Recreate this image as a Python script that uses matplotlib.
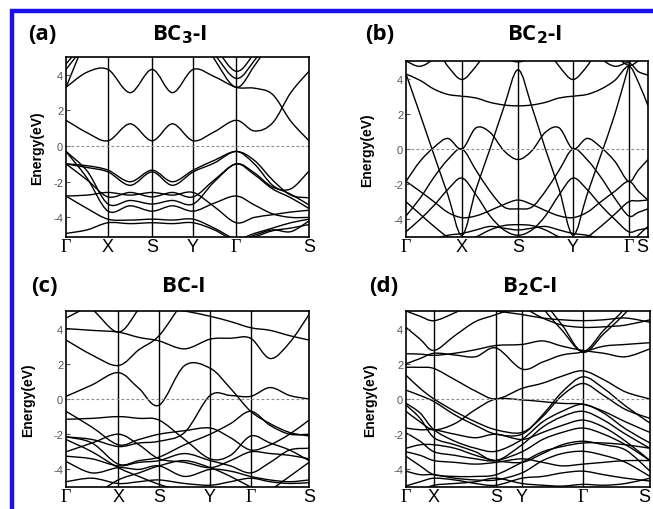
import numpy as np
import matplotlib
matplotlib.use('Agg')
import matplotlib.pyplot as plt
from matplotlib.path import Path
from matplotlib.patches import PathPatch, Rectangle

NAN = np.nan

# ---------------- (a) BC3-I ----------------
k_a = [0, .087, .173, .264, .354, .438, .523, .61, .70, .775, .85, .925, 1.0]
sym_a = [0, .173, .354, .523, .70, 1.0]
lab_a = ['Γ', 'X', 'S', 'Y', 'Γ', 'S']
bands_a = [
    [1.45, 0.75, 0.3, 1.25, 0.3, 1.25, 0.3, 0.8, 1.45, 0.85, 1.3, 3.0, 4.2],
    [3.3, 4.15, 4.3, 3.0, 4.3, 3.0, 4.3, 3.9, 3.3, 3.25, 2.9, 1.4, 0.3],
    [3.3, 6.0, 7, 7, 7, 7, 7, 5.6, 4.2, 5.2, 6.5, 7, 7],
    [4.3, 5.8, 7, 7, 7, 7, 7, 5.2, 3.8, 4.8, 6.3, 7, 7],
    [4.6, 6.0, 7, 7, 7, 7, 7, 4.9, 3.3, 4.5, 6.0, 7, 7],
    [-0.3, -1.4, -3.25, -3.05, -3.25, -3.05, -3.25, -2.0, -1.0, -1.5, -2.3, -2.4, -1.4],
    [-0.3, -1.8, -3.65, -3.35, -3.65, -3.35, -3.65, -3.2, -2.8, -3.3, -3.8, -4.0, -4.0],
    [-1.0, -1.1, -1.35, -2.0, -1.35, -2.0, -1.35, -0.8, -0.3, -0.8, -1.9, -2.75, -2.9],
    [-1.0, -1.2, -1.45, -2.2, -1.45, -2.2, -1.45, -0.95, -0.3, -1.0, -2.2, -2.7, -3.3],
    [-1.0, -1.9, -2.85, -2.6, -2.85, -2.6, -2.85, -1.9, -1.0, -1.6, -2.4, -2.9, -3.5],
    [-2.8, -2.75, -2.6, -2.75, -2.6, -2.75, -2.6, -3.4, -4.3, -4.0, -3.85, -3.7, -3.6],
    [-2.8, -3.5, -4.1, -4.15, -4.1, -4.15, -4.1, -4.6, -5.2, -4.9, -4.6, -4.3, -4.1],
    [-4.9, -4.7, -4.3, -4.35, -4.3, -4.35, -4.3, -4.7, -5.3, -5.0, -4.7, -4.8, -4.2],
    [-6, -6, -6, -6, -6, -6, -6, -5.8, -5.4, -5.1, -4.75, -4.6, -4.4],
]

# ---------------- (b) BC2-I ----------------
k_b = [0, .058, .116, .173, .231, .289, .347, .405, .463, .52, .576, .633, .69,
       .748, .805, .863, .92, .96, 1.0]
sym_b = [0, .231, .463, .69, .92, 1.0]
lab_b = ['Γ', 'X', 'S', 'Y', 'Γ', 'S']
bands_b = [
    [4.26, 1.98, -0.35, -2.6, -4.9, -2.3, 0.0, 2.4, 4.5, 2.4, 0.0, -2.3, -4.9, -2.6, -0.35, 1.98, 4.7, 6.5, 8],
    [5.0, 5.3, 5.8, 4.7, 3.95, 4.7, 5.8, 6.5, 6.5, 6.5, 5.8, 4.7, 3.95, 4.7, 5.8, 5.3, 4.75, 5.0, 5.3],
    [4.26, 3.9, 3.4, 3.1, 3.0, 2.9, 2.65, 2.5, 2.45, 2.5, 2.65, 2.9, 3.0, 3.1, 3.4, 3.9, 4.7, 3.8, 2.45],
    [-1.84, -0.7, 0.1, 0.6, 0.0, 1.2, 0.95, -0.1, -0.6, -0.1, 0.95, 1.2, 0.0, 0.6, 0.1, -0.7, -1.84, -1.2, -0.6],
    [-3.8, -2.8, -1.6, -0.6, 0.0, -1.2, -2.4, -3.3, -3.4, -3.3, -2.4, -1.2, 0.0, -0.6, -1.6, -2.8, -3.8, -3.6, -3.4],
    [-4.7, -4.0, -3.2, -2.3, -1.65, -2.6, -3.8, -4.6, -4.9, -4.6, -3.8, -2.6, -1.65, -2.3, -3.2, -4.0, -4.7, -4.6, -4.5],
    [-1.84, -2.4, -3.0, -3.6, -3.9, -3.8, -3.5, -3.15, -2.9, -3.15, -3.5, -3.8, -3.9, -3.6, -3.0, -2.4, -1.84, -2.4, -2.9],
    [-3.0, -3.7, -4.4, -5.0, -5.3, -5.0, -4.6, -4.35, -4.3, -4.35, -4.6, -5.0, -5.3, -5.0, -4.4, -3.7, -3.0, -2.95, -2.9],
    [-5.5, -5.3, -5.1, -4.9, -4.8, -4.6, -4.4, -4.5, -4.6, -4.5, -4.4, -4.6, -4.8, -4.9, -5.1, -5.3, -5.5, -4.9, -4.4],
    [5.0, 4.7, 5.2, 6.5, 6.5, 6.5, 6.5, 5.3, 4.95, 5.3, 6.5, 6.5, 6.5, 6.5, 5.2, 4.7, 4.9, 4.4, 4.2],
]

# ---------------- (c) BC-I ----------------
k_c = [0, .107, .215, .30, .383, .488, .593, .677, .76, .84, .92, 1.0]
sym_c = [0, .215, .383, .593, .76, 1.0]
lab_c = ['Γ', 'X', 'S', 'Y', 'Γ', 'S']
bands_c = [
    [0.15, 0.8, 1.5, 0.6, -0.35, 1.9, 1.75, 0.6, -0.7, -1.4, -1.9, -2.1],
    [-2.15, -2.3, -2.7, -2.5, -2.4, -1.9, 0.2, 0.2, 0.15, 0.65, 0.2, 0.0],
    [4.0, 3.9, 3.8, 3.5, 3.3, 2.85, 3.4, 3.45, 3.45, 2.3, 3.2, 4.8],
    [3.35, 2.5, 1.9, 2.8, 3.6, 5.6, 7, 7, 7, 7, 7, 7],
    [6.0, 5.1, 3.8, 5.1, 6.3, 7, 7, 7, 7, 7, 7, 7],
    [4.6, 5.4, 6.5, 7, 7, 7, 7, 7, 7, 7, 7, 7],
    [7, 7, 7, 6, 5.2, 5.0, 4.7, 4.4, 4.05, 3.9, 3.6, 3.35],
    [-0.7, -1.6, -2.6, -2.3, -2.0, -1.8, -1.65, -2.2, -2.9, -2.6, -2.0, -1.2],
    [-1.15, -1.1, -1.0, -1.1, -1.2, -2.3, -3.4, -3.2, -2.1, -2.5, -2.9, -3.5],
    [-2.15, -2.5, -3.7, -3.5, -3.3, -2.6, -2.0, -1.4, -0.7, -1.5, -2.0, -2.0],
    [-3.0, -2.5, -2.0, -2.6, -3.4, -3.6, -3.9, -3.5, -3.0, -3.1, -3.2, -3.4],
    [-3.25, -3.4, -3.8, -3.6, -3.5, -3.1, -3.5, -3.8, -4.2, -3.6, -2.9, -2.8],
    [-3.55, -4.2, -3.9, -4.0, -3.8, -4.4, -4.0, -4.1, -4.4, -4.6, -4.7, -4.6],
    [-4.7, -4.5, -4.8, -4.7, -4.6, -4.8, -4.9, -4.7, -4.5, -4.7, -4.8, -4.75],
    [-6, -5.5, -4.6, -4.2, -3.8, -3.5, -3.9, -4.4, -5.0, -5.5, -6, -6],
    [-2.3, -3.0, -3.9, -4.4, -4.85, -5.3, -6, -6, -6, -5.2, -4.4, -3.6],
]

# ---------------- (d) B2C-I ----------------
k_d = [0, .058, .115, .2, .285, .369, .475, .56, .64, .725, .81, .9, 1.0]
sym_d = [0, .115, .369, .475, .725, 1.0]
lab_d = ['Γ', 'X', 'S', 'Y', 'Γ', 'S']
bands_d = [
    [1.8, 1.8, 1.73, 1.1, 0.45, 0.0, 0.6, 0.9, 1.3, 1.6, 1.1, 0.4, 0.0],
    [2.57, 2.55, 2.48, 2.6, 2.8, 3.04, 3.1, 3.3, 3.0, 2.76, 2.6, 2.4, 2.85],
    [4.07, 3.4, 2.76, 3.6, 4.4, 4.8, 5.4, 6.5, 6.5, 6.5, 6.5, 6.5, 6.5],
    [2.0, 2.3, 2.6, 2.5, 2.4, 2.9, 1.7, 2.1, 2.5, 2.67, 3.0, 3.1, 3.2],
    [NAN, NAN, NAN, NAN, NAN, NAN, 7, 5.2, 3.9, 2.7, 3.9, 5.2, 7],
    [NAN, NAN, NAN, NAN, NAN, NAN, 7, 5.6, 4.2, 2.65, 3.7, 4.9, 6.5],
    [NAN, NAN, NAN, NAN, NAN, 5.0, 4.8, 4.6, 4.5, 4.45, 4.5, 4.6, 4.36],
    [NAN, NAN, NAN, NAN, NAN, 5.5, 5.2, 4.6, 4.2, 4.07, 4.1, 4.2, 4.5],
    [5.0, 4.7, 4.45, 4.9, 5.5, 6.5, NAN, NAN, NAN, NAN, NAN, NAN, NAN],
    [1.35, 0.6, 0.0, -0.7, -1.3, -1.75, -1.9, -1.0, 0.2, 0.88, 0.2, -0.6, -1.1],
    [0.5, 0.2, -0.15, -0.9, -1.5, -2.0, -2.0, -0.9, 0.4, 1.26, 0.6, -0.4, -1.37],
    [-0.24, -0.8, -1.75, -2.4, -2.8, -2.97, -2.3, -1.3, -0.7, -0.3, -0.8, -1.7, -2.5],
    [-0.34, -1.1, -2.2, -2.6, -3.0, -3.5, -2.6, -1.6, -1.0, -0.7, -1.2, -2.0, -2.8],
    [-0.7, -1.3, -1.75, -1.4, -0.6, 0.0, -0.05, -0.15, -0.25, -0.3, -0.7, -1.3, -1.9],
    [-1.65, -1.75, -1.75, -2.0, -2.2, -2.0, -2.3, -1.9, -1.5, -1.2, -1.6, -2.4, -3.5],
    [-1.93, -2.4, -3.0, -3.2, -3.4, -3.5, -3.0, -2.3, -1.9, -1.65, -2.0, -2.6, -3.5],
    [-2.8, -2.6, -2.6, -2.8, -3.2, -3.5, -3.6, -3.1, -2.6, -2.4, -2.6, -2.9, -4.1],
    [-3.25, -3.8, -4.3, -4.4, -4.4, -4.3, -3.6, -3.0, -2.7, -2.5, -2.5, -2.6, -2.8],
    [-4.1, -4.3, -4.3, -4.5, -4.6, -4.6, -4.2, -3.5, -3.1, -2.97, -3.2, -3.6, -4.4],
    [-4.94, -4.7, -4.5, -4.6, -4.8, -4.9, -4.5, -4.4, -4.2, -4.1, -4.3, -4.5, -4.66],
    [-5.5, -5.2, -4.9, -4.8, -4.7, -4.5, -4.8, -4.9, -4.95, -4.85, -4.9, -4.8, -4.5],
    [-3.0, -3.2, -3.5, -3.6, -3.7, -3.6, -3.4, -3.6, -3.8, -3.7, -3.6, -3.5, -3.5],
]


def band_path(k, e):
    # smooth curve through the read points (cubic bezier segments)
    k = np.asarray(k, float)
    e = np.asarray(e, float)
    ok = ~np.isnan(e)
    verts, codes = [], []
    i, n = 0, len(k)
    while i < n:
        if not ok[i]:
            i += 1
            continue
        j = i
        while j + 1 < n and ok[j + 1]:
            j += 1
        pts = np.column_stack([k[i:j + 1], e[i:j + 1]])
        verts.append(pts[0])
        codes.append(Path.MOVETO)
        m = len(pts)
        for s in range(m - 1):
            p0 = pts[max(s - 1, 0)]
            p1 = pts[s]
            p2 = pts[s + 1]
            p3 = pts[min(s + 2, m - 1)]
            verts += [p1 + (p2 - p0) / 6, p2 - (p3 - p1) / 6, p2]
            codes += [Path.CURVE4] * 3
        i = j + 1
    return Path(verts, codes)


W, H = 653, 510
fig = plt.figure(figsize=(W / 100, H / 100), dpi=100)


def px(x, y):
    return x / W, 1 - y / H


panels = [
    # k, bands, sym, labels, axes box (left, top, right, bottom px), ylim, tag, title, tag x, title x, ylabel x, text y
    (k_a, bands_a, sym_a, lab_a, (66, 58, 309, 238), (-5.1, 5), '(a)', r'BC$_\mathbf{3}$-I', 42, 180, 37, 35),
    (k_b, bands_b, sym_b, lab_b, (406, 62, 648, 238), (-5, 5), '(b)', r'BC$_\mathbf{2}$-I', 380, 535, 367, 35),
    (k_c, bands_c, sym_c, lab_c, (66, 312, 309, 488), (-5, 5), '(c)', 'BC-I', 44, 184, 28, 287),
    (k_d, bands_d, sym_d, lab_d, (406, 312, 650, 488), (-5, 5), '(d)', r'B$_\mathbf{2}$C-I', 384, 530, 370, 287),
]

for k, bands, sym, labs, box, ylim, tag, title, tx, ttx, ylx, ty in panels:
    l, t, r, b = box
    ax = fig.add_axes([l / W, 1 - b / H, (r - l) / W, (b - t) / H])
    for e in bands:
        ax.add_patch(PathPatch(band_path(k, e), fill=False, lw=1.0, ec='black'))
    for s in sym[1:-1]:
        ax.axvline(s, color='black', lw=1.0)
    ax.axhline(0, color='#8a8a8a', lw=0.8, ls=(0, (2.5, 2)))
    ax.set_xlim(0, 1)
    ax.set_ylim(*ylim)
    ax.set_yticks([-4, -2, 0, 2, 4])
    ax.set_yticklabels(['-4', '-2', '0', '2', '4'], fontsize=8, color='#555555',
                       family='Liberation Sans')
    ax.tick_params(axis='y', direction='in', length=3, pad=2, color='#555555')
    ax.set_xticks(sym)
    ax.set_xticklabels(labs, fontsize=13)
    for tl in ax.get_xticklabels():
        tl.set_family('Liberation Serif' if tl.get_text() == 'Γ' else 'Liberation Sans')
    if r > 640:
        ax.get_xticklabels()[-1].set_horizontalalignment('right')
    ax.tick_params(axis='x', length=0, pad=1)
    for sp in ax.spines.values():
        sp.set_linewidth(1.2)
    cy = (t + b) / 2
    fig.text(*px(ylx, cy), 'Energy(eV)', rotation=90, ha='center', va='center',
             fontsize=10, fontweight='bold', family='Liberation Sans')
    fig.text(*px(tx, ty), tag, ha='center', va='center', fontsize=16,
             fontweight='bold', family='Open Sans')
    fig.text(*px(ttx, ty), title, ha='center', va='center', fontsize=16,
             fontweight='bold', family='Open Sans')

# blue frame (top and left edges visible)
fig.add_artist(Rectangle(px(12, 600), (W + 50) / W, (600 - 11.5) / H,
                         transform=fig.transFigure, fill=False, ec='#1a12e8', lw=3.2))

fig.savefig('out.png', dpi=100)
